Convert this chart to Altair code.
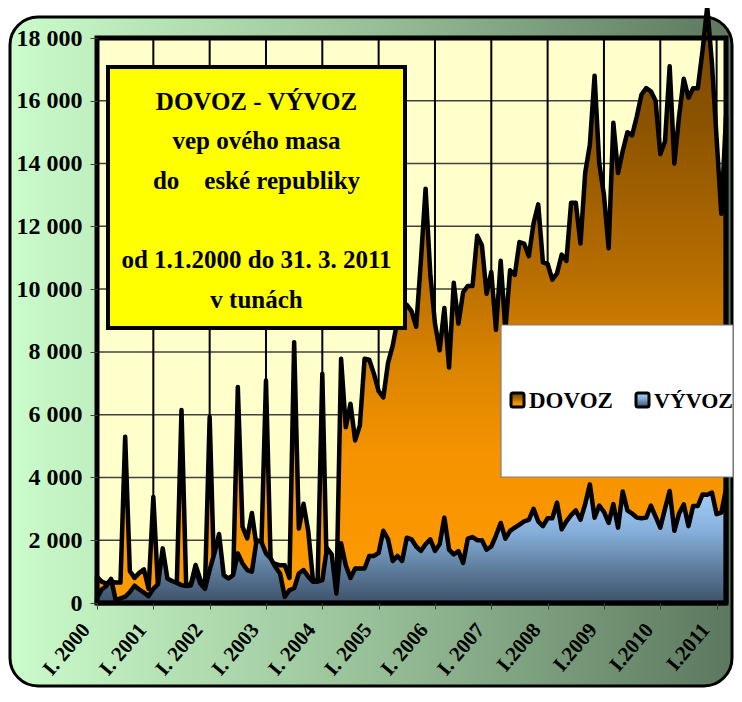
import altair as alt
import pandas as pd

# ---------------- data (tonnes per month, I.2000 .. III.2011) ----------------
DOVOZ = [
    830, 680, 620, 700, 650, 650, 5300, 1020, 800, 960, 1070, 450,            # 2000
    3380, 500, 1200, 750, 680, 620, 6150, 560, 600, 1210, 750, 480,           # 2001
    5925, 700, 800, 800, 700, 800, 6880, 2430, 2060, 2870, 1800, 1700,        # 2002
    7090, 1300, 1250, 1200, 1200, 800, 8310, 2370, 3160, 2300, 750, 700,      # 2003
    7300, 700, 650, 250, 7780, 5600, 6350, 5180, 5660, 7780, 7750, 7300,      # 2004
    6750, 6550, 7650, 8200, 9000, 9500, 9500, 9300, 8800, 10900, 13200, 10500,  # 2005
    8900, 8050, 9400, 7500, 10200, 8900, 9900, 10100, 10100, 11700, 11400, 9850,  # 2006
    10550, 8700, 10900, 8700, 10600, 10450, 11500, 11450, 11050, 12100, 12700, 10850,  # 2007
    10800, 10300, 10500, 11100, 10900, 12750, 12750, 11450, 13700, 14600, 16800, 14000,  # 2008
    13000, 11300, 15300, 13700, 14400, 15000, 14900, 15500, 16200, 16400, 16300, 16000,  # 2009
    14300, 14700, 17100, 14000, 15500, 16700, 16100, 16400, 16400, 17600, 19000, 17200,  # 2010
    14800, 12400, 15500,                                                       # 2011
]
VYVOZ = [
    150, 430, 540, 770, 80, 150, 200, 350, 550, 430, 330, 220,
    450, 600, 1740, 780, 700, 640, 570, 540, 560, 1050, 620, 450,
    1050, 1580, 2200, 890, 780, 890, 1580, 1260, 1050, 1000, 2000, 1950,
    1580, 1420, 1150, 940, 200, 410, 470, 940, 1050, 840, 680, 680,
    730, 1750, 1550, 300, 1900, 1200, 800, 1100, 1100, 1100, 1500, 1500,
    1600, 2300, 2030, 1340, 1500, 1340, 2080, 2030, 1800, 1660, 1870, 2030,
    1660, 1870, 2720, 1700, 1550, 1650, 1280, 2050, 2100, 2000, 2000, 1700,
    1800, 2150, 2550, 2050, 2300, 2400, 2500, 2600, 2650, 3000, 2600, 2450,
    2700, 2700, 3200, 2350, 2600, 2800, 2950, 2650, 3150, 3780, 2720, 3100,
    2900, 2550, 3150, 2400, 3550, 2950, 2850, 2720, 2700, 2720, 3100, 2750,
    2400, 3000, 3570, 2300, 2850, 3140, 2450, 3090, 3090, 3460, 3450, 3520,
    2830, 2880, 3620,
]
MONTHS = list(range(len(DOVOZ)))

Y_TICKS = [0, 2000, 4000, 6000, 8000, 10000, 12000, 14000, 16000, 18000]
X_TICKS = [0, 12, 24, 36, 48, 60, 72, 84, 96, 108, 120, 132]
X_LABELS = ["I. 2000", "I. 2001", "I. 2002", "I. 2003", "I. 2004", "I. 2005",
            "I. 2006", "I. 2007", "I.2008", "I.2009", "I.2010", "I.2011"]
TITLE_TOP = ["DOVOZ - VÝVOZ", "vep ového masa", "do\u00a0\u00a0\u00a0\u00a0eské republiky"]
TITLE_BOTTOM = ["od 1.1.2000 do 31. 3. 2011", "v tunách"]
LEGEND_NAMES = ["DOVOZ", "VÝVOZ"]

df = pd.DataFrame({"m": MONTHS, "dovoz": DOVOZ, "vyvoz": VYVOZ})
one = pd.DataFrame({"a": [0]})

W, H = 629, 565
FONT = "Liberation Serif"


def grad(stops, horizontal=False):
    return alt.LinearGradient(
        gradient="linear",
        stops=[alt.GradientStop(color=c, offset=o) for o, c in stops],
        x1=0, x2=1 if horizontal else 0, y1=0, y2=0 if horizontal else 1,
    )


ORANGE = grad([(0, "#784600"), (0.2, "#8C5400"), (0.45, "#B86E00"),
               (0.6, "#DA8400"), (0.75, "#F59300"), (1, "#FF9A00")])
BLUE = grad([(0, "#A8D4FF"), (0.4, "#86AEDA"), (0.7, "#5F7F9F"), (1, "#3E5168")])
FRAME = grad([(0, "#CBFCCB"), (0.5, "#98C098"), (1, "#5C785F")], horizontal=True)

xscale = alt.Scale(domain=[0, 134], nice=False, zero=False)
yscale = alt.Scale(domain=[0, 18000], nice=False)

label_expr = "[" + ",".join("'%s'" % l for l in X_LABELS) + "][round(datum.value/12)]"

xaxis = alt.Axis(values=X_TICKS, labelExpr=label_expr, labelAngle=-50, labelAlign="right",
                 labelBaseline="middle", labelOffset=-11, labelPadding=17, tickSize=6,
                 tickColor="#404040", labelFont=FONT, labelFontWeight="bold", labelFontSize=21,
                 labelColor="black", grid=False, domain=False, title=None, zindex=1,
                 labelOverlap=False, labelFlush=False, labelBound=False)
yaxis = alt.Axis(values=Y_TICKS, labelExpr="replace(format(datum.value, ','), ',', ' ')",
                 tickSize=7, tickColor="#404040", labelPadding=8, labelFont=FONT,
                 labelFontWeight="bold", labelFontSize=24, labelColor="black",
                 grid=False, domain=False, title=None, zindex=1, labelBound=False)

frame = alt.Chart(one).mark_rect(fill=FRAME, stroke="black", strokeWidth=3, cornerRadius=28).encode(
    x=alt.value(-87), x2=alt.value(635), y=alt.value(-21), y2=alt.value(648))

plotbg = alt.Chart(one).mark_rect(fill="#FFFFCC").encode(
    x=alt.value(0), x2=alt.value(W), y=alt.value(0), y2=alt.value(H))

hgrid = alt.Chart(pd.DataFrame({"v": Y_TICKS[1:-1]})).mark_rule(color="#404040", strokeWidth=1.5).encode(
    y=alt.Y("v:Q", scale=yscale, axis=yaxis))
vgrid = alt.Chart(pd.DataFrame({"v": X_TICKS[1:]})).mark_rule(color="black", strokeWidth=2).encode(
    x=alt.X("v:Q", scale=xscale, axis=xaxis))

dov = alt.Chart(df).mark_area(fill=ORANGE, stroke="black", strokeWidth=4.5, strokeJoin="round",
                              clip=False).encode(
    x=alt.X("m:Q", scale=xscale, axis=xaxis),
    y=alt.Y("dovoz:Q", scale=yscale, axis=yaxis))
vyv = alt.Chart(df).mark_area(fill=BLUE, stroke="black", strokeWidth=4.5, strokeJoin="round",
                              clip=False).encode(
    x=alt.X("m:Q", scale=xscale, axis=xaxis),
    y=alt.Y("vyvoz:Q", scale=yscale, axis=yaxis))

border = alt.Chart(one).mark_rect(filled=False, stroke="black", strokeWidth=5).encode(
    x=alt.value(0), x2=alt.value(W), y=alt.value(0), y2=alt.value(H))

tbox = alt.Chart(one).mark_rect(fill="#FFFF00", stroke="black", strokeWidth=4).encode(
    x=alt.value(11), x2=alt.value(308), y=alt.value(29), y2=alt.value(290))
ttext1 = alt.Chart(one).mark_text(text=TITLE_TOP, font=FONT, fontWeight="bold", fontSize=25,
                                  lineHeight=39.3, align="center", baseline="middle",
                                  color="black").encode(
    x=alt.value(159.5), y=alt.value(64))
ttext2 = alt.Chart(one).mark_text(text=TITLE_BOTTOM, font=FONT, fontWeight="bold", fontSize=25,
                                  lineHeight=40, align="center", baseline="middle",
                                  color="black").encode(
    x=alt.value(159.5), y=alt.value(222))

lbox = alt.Chart(one).mark_rect(fill="white", stroke="#7F7F7F", strokeWidth=1.2).encode(
    x=alt.value(404), x2=alt.value(636), y=alt.value(287), y2=alt.value(439))
lm1 = alt.Chart(one).mark_rect(fill=ORANGE, stroke="black", strokeWidth=3, cornerRadius=2).encode(
    x=alt.value(414), x2=alt.value(427), y=alt.value(355), y2=alt.value(369))
lm2 = alt.Chart(one).mark_rect(fill=BLUE, stroke="black", strokeWidth=3, cornerRadius=2).encode(
    x=alt.value(539), x2=alt.value(552), y=alt.value(355), y2=alt.value(369))
lt1 = alt.Chart(one).mark_text(text=LEGEND_NAMES[0], font=FONT, fontWeight="bold", fontSize=23,
                               align="left", baseline="middle", color="black").encode(
    x=alt.value(432), y=alt.value(363))
lt2 = alt.Chart(one).mark_text(text=LEGEND_NAMES[1], font=FONT, fontWeight="bold", fontSize=22,
                               align="left", baseline="middle", color="black").encode(
    x=alt.value(557), y=alt.value(363))

chart = alt.layer(frame, plotbg, hgrid, vgrid, dov, vyv, border, tbox, ttext1, ttext2,
                  lbox, lm1, lm2, lt1, lt2).properties(
    width=W, height=H,
    autosize=alt.AutoSizeParams(type="none"),
    padding={"left": 89, "top": 30, "right": 8, "bottom": 85},
    background="white",
).configure_view(stroke=None)

chart.save("out.html", embed_options={"renderer": "svg", "actions": False})
